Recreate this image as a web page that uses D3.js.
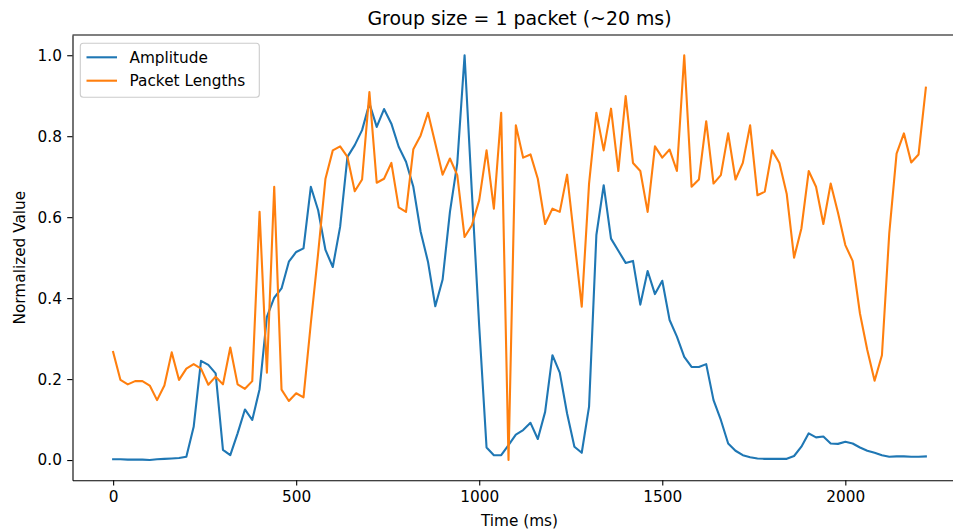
<!DOCTYPE html>
<html>
<head>
<meta charset="utf-8">
<script src="https://cdn.jsdelivr.net/npm/d3@7"></script>
<style>
  body { margin: 0; background: #fff; }
  text { font-family: "DejaVu Sans", sans-serif; fill: #000; }
</style>
</head>
<body>
<div id="chart"></div>
<script>
// time axis (ms), one sample per packet
let timeMs = [
  0, 20, 40, 60, 80, 100, 120, 140, 160, 180, 200, 220, 240, 260, 280, 300,
  320, 340, 360, 380, 400, 420, 440, 460, 480, 500, 520, 540, 560, 580, 600,
  620, 640, 660, 680, 700, 720, 740, 760, 780, 800, 820, 840, 860, 880, 900,
  920, 940, 960, 980, 1000, 1020, 1040, 1060, 1080, 1100, 1120, 1140, 1160,
  1180, 1200, 1220, 1240, 1260, 1280, 1300, 1320, 1340, 1360, 1380, 1400,
  1420, 1440, 1460, 1480, 1500, 1520, 1540, 1560, 1580, 1600, 1620, 1640,
  1660, 1680, 1700, 1720, 1740, 1760, 1780, 1800, 1820, 1840, 1860, 1880,
  1900, 1920, 1940, 1960, 1980, 2000, 2020, 2040, 2060, 2080, 2100, 2120,
  2140, 2160, 2180, 2200, 2220
];

let amplitude = [
  0.002, 0.002, 0.001, 0.001, 0.001, 0.000, 0.002, 0.003, 0.004, 0.005, 0.008,
  0.082, 0.245, 0.235, 0.214, 0.025, 0.012, 0.066, 0.125, 0.099, 0.175,
  0.354, 0.401, 0.424, 0.490, 0.514, 0.523, 0.675, 0.617, 0.519, 0.477,
  0.576, 0.749, 0.778, 0.815, 0.881, 0.823, 0.867, 0.831, 0.774, 0.737,
  0.675, 0.564, 0.490, 0.380, 0.446, 0.613, 0.733, 1.000, 0.660, 0.330,
  0.031, 0.012, 0.012, 0.037, 0.063, 0.074, 0.092, 0.052, 0.119, 0.259,
  0.216, 0.115, 0.033, 0.018, 0.132, 0.556, 0.679, 0.547, 0.517, 0.487,
  0.492, 0.384, 0.467, 0.410, 0.443, 0.346, 0.305, 0.255, 0.230, 0.230,
  0.237, 0.148, 0.099, 0.041, 0.023, 0.012, 0.007, 0.004, 0.003, 0.003,
  0.003, 0.003, 0.010, 0.033, 0.066, 0.056, 0.058, 0.041, 0.040, 0.045,
  0.041, 0.031, 0.023, 0.018, 0.012, 0.008, 0.009, 0.009, 0.008, 0.008, 0.009
];

let packetLengths = [
  0.267, 0.198, 0.187, 0.195, 0.195, 0.184, 0.148, 0.184, 0.266, 0.198,
  0.226, 0.237, 0.226, 0.186, 0.206, 0.187, 0.278, 0.187, 0.176, 0.195,
  0.613, 0.216, 0.675, 0.174, 0.146, 0.165, 0.155, 0.338, 0.511, 0.695,
  0.765, 0.775, 0.749, 0.664, 0.693, 0.909, 0.685, 0.695, 0.734, 0.624,
  0.613, 0.768, 0.802, 0.858, 0.782, 0.705, 0.745, 0.704, 0.551, 0.580,
  0.642, 0.765, 0.621, 0.858, 0.000, 0.827, 0.747, 0.755, 0.695, 0.583,
  0.621, 0.613, 0.705, 0.543, 0.379, 0.683, 0.858, 0.765, 0.868, 0.714,
  0.899, 0.734, 0.714, 0.613, 0.775, 0.747, 0.767, 0.714, 1.000, 0.675,
  0.693, 0.837, 0.683, 0.704, 0.807, 0.693, 0.734, 0.827, 0.654, 0.663,
  0.765, 0.734, 0.657, 0.500, 0.572, 0.714, 0.675, 0.583, 0.683, 0.611,
  0.531, 0.492, 0.362, 0.272, 0.196, 0.259, 0.560, 0.757, 0.807, 0.735,
  0.755, 0.920
];

let seriesNames = ['Amplitude', 'Packet Lengths'];
let seriesColors = ['#1f77b4', '#ff7f0e'];
let xTicks = [0, 500, 1000, 1500, 2000];
let yTicks = [0.0, 0.2, 0.4, 0.6, 0.8, 1.0];

// plot area (axes runs a bit past the right edge of the picture)
let config = { svg: {}, plot: {} };
config.svg.width = 953;
config.svg.height = 531;
config.plot.left = 72.5;
config.plot.right = 966.5;
config.plot.top = 35;
config.plot.bottom = 480.3;

let svg = d3.select('#chart').append('svg')
  .attr('width', config.svg.width)
  .attr('height', config.svg.height);

// matplotlib style 5% margins
let xMin = d3.min(timeMs), xMax = d3.max(timeMs);
let xPad = (xMax - xMin) * 0.05;
let x = d3.scaleLinear()
  .domain([xMin - xPad, xMax + xPad])
  .range([config.plot.left, config.plot.right]);

let y = d3.scaleLinear()
  .domain([-0.05, 1.05])
  .range([config.plot.bottom, config.plot.top]);

// lines
let series = [amplitude, packetLengths];
let line = d3.line()
  .x(function(d, i) { return x(timeMs[i]); })
  .y(function(d) { return y(d); });

series.forEach(function(values, k) {
  svg.append('path')
    .datum(values)
    .attr('d', line)
    .attr('fill', 'none')
    .attr('stroke', seriesColors[k])
    .attr('stroke-width', 2.1)
    .attr('stroke-linejoin', 'round')
    .attr('stroke-linecap', 'square');
});

// axes
let xAxis = svg.append('g')
  .attr('transform', 'translate(0,' + config.plot.bottom + ')')
  .call(d3.axisBottom(x).tickValues(xTicks).tickFormat(d3.format('d'))
    .tickSizeInner(5.3).tickSizeOuter(0).tickPadding(5.3));
let yAxis = svg.append('g')
  .attr('transform', 'translate(' + config.plot.left + ',0)')
  .call(d3.axisLeft(y).tickValues(yTicks).tickFormat(d3.format('.1f'))
    .tickSizeInner(5.3).tickSizeOuter(0).tickPadding(5.3));

[xAxis, yAxis].forEach(function(g) {
  g.selectAll('path, line').attr('stroke', '#000').attr('stroke-width', 1.1);
  g.selectAll('text').style('font-size', '15.3px').attr('fill', '#000');
});

// top / right spines
svg.append('line')
  .attr('x1', config.plot.left).attr('x2', config.plot.right)
  .attr('y1', config.plot.top).attr('y2', config.plot.top)
  .attr('stroke', '#000').attr('stroke-width', 1.1);
svg.append('line')
  .attr('x1', config.plot.right).attr('x2', config.plot.right)
  .attr('y1', config.plot.top).attr('y2', config.plot.bottom)
  .attr('stroke', '#000').attr('stroke-width', 1.1);

let midX = (config.plot.left + config.plot.right) / 2;
let midY = (config.plot.top + config.plot.bottom) / 2;

// title and axis labels
svg.append('text')
  .attr('x', midX).attr('y', 25)
  .attr('text-anchor', 'middle')
  .style('font-size', '18.9px')
  .text('Group size = 1 packet (~20 ms)');

svg.append('text')
  .attr('x', midX).attr('y', 526)
  .attr('text-anchor', 'middle')
  .style('font-size', '15.3px')
  .text('Time (ms)');

svg.append('text')
  .attr('transform', 'translate(25,' + midY + ') rotate(-90)')
  .attr('text-anchor', 'middle')
  .style('font-size', '15.3px')
  .text('Normalized Value');

// legend
let legend = svg.append('g');
legend.append('rect')
  .attr('x', 80.3).attr('y', 43.3)
  .attr('width', 179).attr('height', 54)
  .attr('rx', 3)
  .attr('fill', '#fff').attr('fill-opacity', 0.8)
  .attr('stroke', '#cccccc').attr('stroke-width', 1.1);

seriesNames.forEach(function(name, k) {
  let rowY = 57.3 + k * 23.4;
  legend.append('line')
    .attr('x1', 86.5).attr('x2', 117)
    .attr('y1', rowY).attr('y2', rowY)
    .attr('stroke', seriesColors[k]).attr('stroke-width', 2.1);
  legend.append('text')
    .attr('x', 129.5).attr('y', rowY)
    .attr('dy', '0.36em')
    .style('font-size', '15.3px')
    .text(name);
});
</script>
</body>
</html>
